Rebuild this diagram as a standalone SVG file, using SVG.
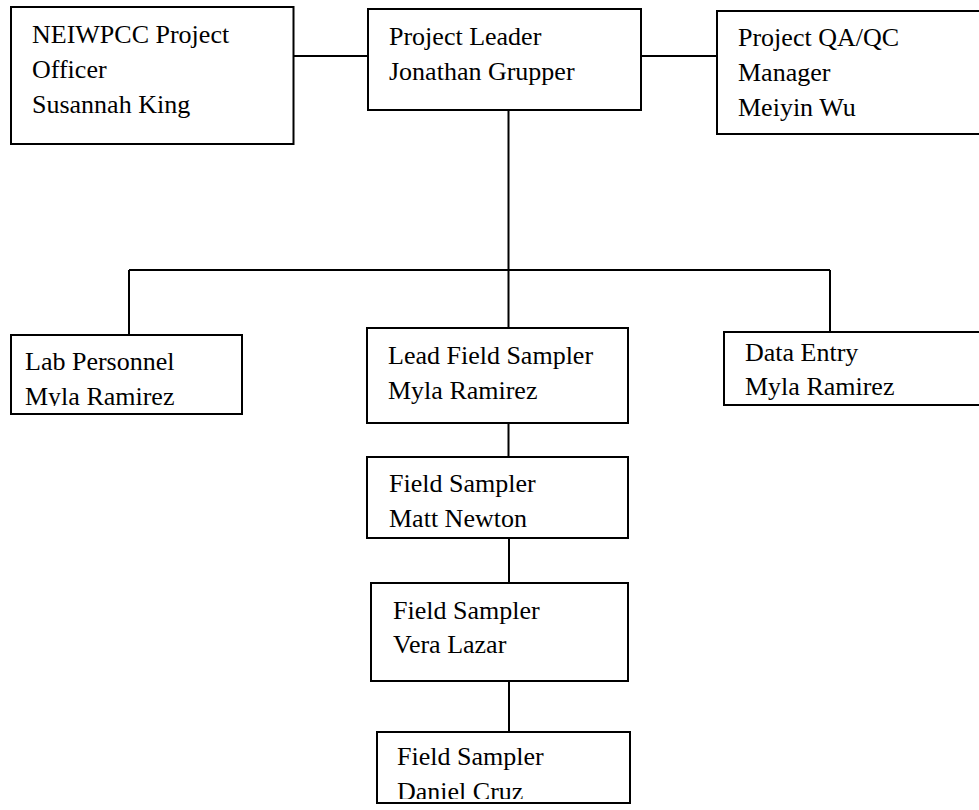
<svg xmlns="http://www.w3.org/2000/svg" width="979" height="810" viewBox="0 0 979 810">
<style>
.box{fill:#fff;stroke:#000;stroke-width:2}
.t{font-family:"Liberation Serif","Times New Roman",serif;font-size:26px;fill:#000}
.c{stroke:#000;stroke-width:2;fill:none}
</style>
<defs>
<clipPath id="clipLab"><rect x="11" y="335" width="231" height="71"/></clipPath>
<clipPath id="clipDaniel"><rect x="377" y="732" width="253" height="67"/></clipPath>
</defs>
<rect width="979" height="810" fill="#fff"/>
<g id="connectors">
<line class="c" x1="293" y1="56" x2="368" y2="56"/>
<line class="c" x1="641" y1="56" x2="717" y2="56"/>
<line class="c" x1="508.5" y1="110" x2="508.5" y2="270"/>
<line class="c" x1="129" y1="270" x2="830" y2="270" stroke-width="2.5"/>
<line class="c" x1="129" y1="270" x2="129" y2="335"/>
<line class="c" x1="508.5" y1="270" x2="508.5" y2="328"/>
<line class="c" x1="830" y1="270" x2="830" y2="332"/>
<line class="c" x1="508.5" y1="423" x2="508.5" y2="457"/>
<line class="c" x1="509" y1="538" x2="509" y2="583"/>
<line class="c" x1="509" y1="681" x2="509" y2="732"/>
</g>
<g id="neiwpcc">
<rect class="box" x="11" y="7" width="282.5" height="137"/>
<text class="t" x="32" y="43">NEIWPCC Project</text>
<text class="t" x="32" y="78">Officer</text>
<text class="t" x="32" y="113">Susannah King</text>
</g>
<g id="leader">
<rect class="box" x="368" y="9" width="273" height="101"/>
<text class="t" x="389" y="45">Project Leader</text>
<text class="t" x="389" y="80">Jonathan Grupper</text>
</g>
<g id="qaqc">
<rect class="box" x="717" y="11" width="270" height="123"/>
<text class="t" x="738" y="46">Project QA/QC</text>
<text class="t" x="738" y="81">Manager</text>
<text class="t" x="738" y="116">Meiyin Wu</text>
</g>
<g id="lab">
<rect class="box" x="11" y="335" width="231" height="79"/>
<g clip-path="url(#clipLab)">
<text class="t" x="25" y="370">Lab Personnel</text>
<text class="t" x="25" y="405">Myla Ramirez</text>
</g>
</g>
<g id="leadfield">
<rect class="box" x="367" y="328" width="261" height="95"/>
<text class="t" x="388" y="364">Lead Field Sampler</text>
<text class="t" x="388" y="399">Myla Ramirez</text>
</g>
<g id="dataentry">
<rect class="box" x="724" y="332" width="263" height="73"/>
<text class="t" x="745" y="361">Data Entry</text>
<text class="t" x="745" y="395">Myla Ramirez</text>
</g>
<g id="matt">
<rect class="box" x="367" y="457" width="261" height="81"/>
<text class="t" x="389" y="492">Field Sampler</text>
<text class="t" x="389" y="527">Matt Newton</text>
</g>
<g id="vera">
<rect class="box" x="371" y="583" width="257" height="98"/>
<text class="t" x="393" y="619">Field Sampler</text>
<text class="t" x="393" y="653">Vera Lazar</text>
</g>
<g id="daniel">
<rect class="box" x="377" y="732" width="253" height="71"/>
<g clip-path="url(#clipDaniel)">
<text class="t" x="397" y="765">Field Sampler</text>
<text class="t" x="397" y="800">Daniel Cruz</text>
</g>
</g>
</svg>
